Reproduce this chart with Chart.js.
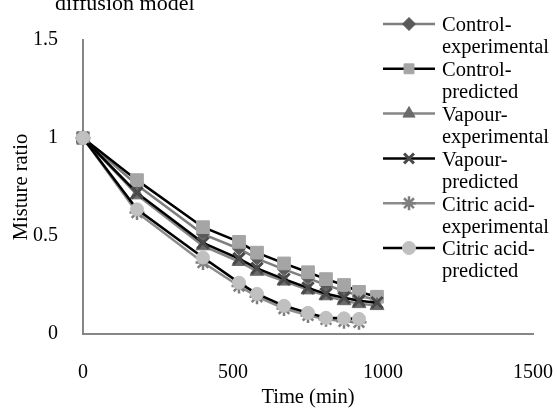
<!DOCTYPE html>
<html>
<head>
<meta charset="utf-8">
<script src="https://cdn.jsdelivr.net/npm/chart.js@4/dist/chart.umd.min.js"></script>
<style>
  html, body { margin: 0; padding: 0; background: #fff; overflow: hidden; }
  #wrap { position: relative; width: 557px; height: 410px; }
  #ttl { position: absolute; left: 55px; top: -8px; font: 22px/22px 'Liberation Serif', 'Times New Roman', serif; color: #000; white-space: nowrap; }
  canvas { position: absolute; left: 0; top: 0; }
</style>
</head>
<body>
<div id="wrap">
  <canvas id="c" width="557" height="410"></canvas>
  <div id="ttl">diffusion model</div>
</div>
<script>
// ---- data ----
const times       = [0, 180, 400, 520, 580, 670, 750, 810, 870, 920, 980];
const timesCitric = [0, 180, 400, 520, 580, 670, 750, 810, 870, 920];
const controlExp  = [1, 0.76, 0.51, 0.435, 0.385, 0.33, 0.285, 0.25, 0.22, 0.195, 0.175];
const controlPred = [1, 0.785, 0.545, 0.47, 0.415, 0.36, 0.315, 0.28, 0.25, 0.215, 0.19];
const vapourExp   = [1, 0.71, 0.45, 0.37, 0.32, 0.27, 0.225, 0.195, 0.17, 0.155, 0.145];
const vapourPred  = [1, 0.72, 0.465, 0.385, 0.335, 0.28, 0.235, 0.205, 0.185, 0.17, 0.16];
const citricExp   = [1, 0.62, 0.365, 0.245, 0.19, 0.13, 0.095, 0.075, 0.065, 0.06];
const citricPred  = [1, 0.636, 0.39, 0.262, 0.205, 0.144, 0.108, 0.083, 0.08, 0.077];
const seriesNames = [["Control-", "experimental"], ["Control-", "predicted"], ["Vapour-", "experimental"], ["Vapour-", "predicted"], ["Citric acid-", "experimental"], ["Citric acid-", "predicted"]];
const xTickLabels = ["0", "500", "1000", "1500"];
const yTickLabels = ["0", "0.5", "1", "1.5"];
const xTitle = "Time (min)";
const yTitle = "Misture ratio";

// ---- styles ----
const styles = [
  { line: '#7f7f7f', mark: '#595959', shape: 'rectRot',  r: 6.5, bw: 1 },
  { line: '#000000', mark: '#a5a5a5', shape: 'rect',     r: 9,   bw: 1 },
  { line: '#868686', mark: '#6b6b6b', shape: 'triangle', r: 8,   bw: 1 },
  { line: '#000000', mark: '#4a4a4a', shape: 'crossRot', r: 8,   bw: 3 },
  { line: '#8c8c8c', mark: '#7f7f7f', shape: 'star',     r: 7.5, bw: 2.5 },
  { line: '#000000', mark: '#c0c0c0', shape: 'circle',   r: 6.5, bw: 1 }
];
const seriesX = [times, times, times, times, timesCitric, timesCitric];
const seriesY = [controlExp, controlPred, vapourExp, vapourPred, citricExp, citricPred];

const datasets = seriesY.map((ys, i) => ({
  label: seriesNames[i].join(''),
  data: ys.map((y, k) => ({ x: seriesX[i][k], y: y })),
  borderColor: styles[i].line,
  backgroundColor: styles[i].mark,
  borderWidth: 2.5,
  pointStyle: styles[i].shape,
  pointRadius: styles[i].r,
  pointHoverRadius: styles[i].r,
  pointBackgroundColor: styles[i].mark,
  pointBorderColor: styles[i].mark,
  pointBorderWidth: styles[i].bw,
  showLine: true,
  tension: 0,
  fill: false,
  clip: false,
  order: 5 - i
}));

const FONT = "'Liberation Serif', 'Times New Roman', serif";

const legendPlugin = {
  id: 'sideLegend',
  afterDraw(chart) {
    const ctx = chart.ctx;
    ctx.save();
    for (let i = 0; i < seriesNames.length; i++) {
      const y = 24 + 44.8 * i;
      const st = styles[i];
      ctx.strokeStyle = st.line;
      ctx.lineWidth = 2.5;
      ctx.beginPath();
      ctx.moveTo(383, y);
      ctx.lineTo(435, y);
      ctx.stroke();
      ctx.fillStyle = st.mark;
      ctx.strokeStyle = st.mark;
      ctx.lineWidth = st.bw;
      const r = Math.min(st.r, 7);
      if (Chart.helpers && Chart.helpers.drawPoint) {
        Chart.helpers.drawPoint(ctx, { pointStyle: st.shape, rotation: 0, radius: r, borderWidth: st.bw }, 409, y);
      }
      ctx.fillStyle = '#000';
      ctx.font = "20.5px " + FONT;
      ctx.textBaseline = 'middle';
      ctx.textAlign = 'left';
      ctx.fillText(seriesNames[i][0], 442, y + 2);
      ctx.fillText(seriesNames[i][1], 442, y + 24);
    }
    ctx.restore();
  }
};

new Chart(document.getElementById('c'), {
  type: 'scatter',
  data: { datasets },
  options: {
    responsive: false,
    animation: false,
    events: [],
    layout: { padding: { left: 0, right: 24, top: 40, bottom: 0 } },
    plugins: { legend: { display: false }, tooltip: { enabled: false }, title: { display: false } },
    scales: {
      x: {
        type: 'linear', min: 0, max: 1500,
        afterBuildTicks: s => { s.ticks = xTickLabels.map(v => ({ value: Number(v) })); },
        ticks: { callback: (v, idx) => xTickLabels[idx], color: '#000', font: { family: FONT, size: 20 }, padding: 27, maxRotation: 0 },
        grid: { drawOnChartArea: false, drawTicks: false },
        border: { display: true, color: '#868686', width: 2 },
        title: { display: true, text: xTitle, color: '#000', font: { family: FONT, size: 20.5 }, padding: { top: 0, bottom: 0 } },
        afterFit: s => { s.height = 76; s.paddingLeft = 0; s.paddingRight = 0; }
      },
      y: {
        type: 'linear', min: 0, max: 1.5,
        afterBuildTicks: s => { s.ticks = yTickLabels.map(v => ({ value: Number(v) })); },
        ticks: { callback: (v, idx) => yTickLabels[idx], color: '#000', font: { family: FONT, size: 20 }, padding: 25 },
        grid: { drawOnChartArea: false, drawTicks: false },
        border: { display: true, color: '#868686', width: 2 },
        title: { display: true, text: yTitle, color: '#000', font: { family: FONT, size: 20.5 }, padding: { top: 9, bottom: 0 } },
        afterFit: s => { s.width = 83; s.paddingTop = 0; s.paddingBottom = 0; }
      }
    }
  },
  plugins: [legendPlugin]
});
</script>
</body>
</html>
